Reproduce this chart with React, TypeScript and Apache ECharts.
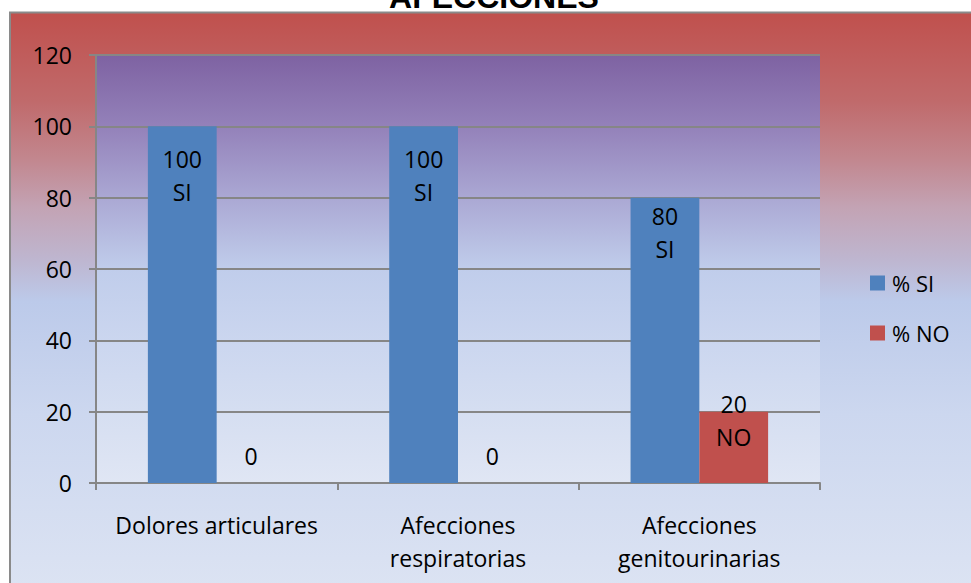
import React, { useEffect, useRef } from "react";
import * as echarts from "echarts";

const categories = ["Dolores articulares", "Afecciones\nrespiratorias", "Afecciones\ngenitourinarias"];
const siValues = [100, 100, 80];
const noValues = [0, 0, 20];
const yTicks = [0, 20, 40, 60, 80, 100, 120];
const seriesNames = ["% SI", "% NO"];
const titleText = "AFECCIONES";

// vertical nudges for the value labels, per bar
const siLabelOffsets = [16, 16, 2];
const noLabelOffsets = [-44, -44, -24];

const FONT = "'Open Sans', sans-serif";
const GRID = { left: 96, right: 151, top: 55, bottom: 100 };

export default function App() {
  const ref = useRef<HTMLDivElement>(null);

  useEffect(() => {
    document.body.style.margin = "0";
    if (!ref.current) return;
    const chart = echarts.init(ref.current, null, { renderer: "svg" });

    const labelBase = {
      show: true,
      position: "insideTop",
      distance: 0,
      color: "#000",
      fontFamily: FONT,
      fontSize: 23,
      lineHeight: 33,
    };

    const option = {
      animation: false,
      backgroundColor: "#fff",
      graphic: [
        {
          type: "rect",
          z: -10,
          shape: { x: 10, y: 12.5, width: 975, height: 590 },
          style: {
            fill: new echarts.graphic.LinearGradient(0, 0, 0, 1, [
              { offset: 0, color: "#C0504D" },
              { offset: 0.15, color: "#C06A6B" },
              { offset: 0.25, color: "#C2878F" },
              { offset: 0.33, color: "#C3A3B4" },
              { offset: 0.42, color: "#BEB6D0" },
              { offset: 0.49, color: "#BCCAEA" },
              { offset: 0.68, color: "#CCD7EF" },
              { offset: 1, color: "#DDE4F3" },
            ]),
            stroke: "#8A8A8A",
            lineWidth: 2,
          },
        },
        {
          type: "rect",
          z: -9,
          shape: { x: GRID.left, y: GRID.top, width: 971 - GRID.left - GRID.right, height: 583 - GRID.top - GRID.bottom },
          style: {
            fill: new echarts.graphic.LinearGradient(0, 0, 0, 1, [
              { offset: 0, color: "#7E62A2" },
              { offset: 0.17, color: "#9482BA" },
              { offset: 0.33, color: "#AAA7D3" },
              { offset: 0.5, color: "#C0CDEB" },
              { offset: 0.67, color: "#CBD6EF" },
              { offset: 0.83, color: "#D5DEF1" },
              { offset: 1, color: "#E0E6F4" },
            ]),
          },
        },
        {
          type: "text",
          z: 10,
          x: 494,
          y: -3,
          style: {
            text: titleText,
            fill: "#000",
            font: "bold 32px 'Liberation Sans', Arial, sans-serif",
            align: "center",
            verticalAlign: "middle",
          },
        },
      ],
      legend: {
        orient: "vertical",
        left: 865,
        top: 267,
        itemWidth: 15,
        itemHeight: 15,
        itemGap: 28,
        icon: "rect",
        data: seriesNames,
        textStyle: { color: "#000", fontFamily: FONT, fontSize: 22, lineHeight: 20, padding: [0, 0, 0, 2] },
      },
      grid: { ...GRID, containLabel: false },
      xAxis: {
        type: "category",
        data: categories,
        axisLine: { show: true, lineStyle: { color: "#868686", width: 2 } },
        axisTick: { show: true, length: 7, lineStyle: { color: "#868686", width: 2 } },
        axisLabel: {
          color: "#000",
          fontFamily: FONT,
          fontSize: 23,
          lineHeight: 33,
          margin: 25,
          interval: 0,
        },
      },
      yAxis: {
        type: "value",
        min: yTicks[0],
        max: yTicks[yTicks.length - 1],
        interval: yTicks[1] - yTicks[0],
        axisLine: { show: true, lineStyle: { color: "#868686", width: 2 } },
        axisTick: { show: true, length: 7, lineStyle: { color: "#868686", width: 2 } },
        splitLine: { show: true, lineStyle: { color: "#868686", width: 2 } },
        axisLabel: { color: "#000", fontFamily: FONT, fontSize: 23, margin: 24 },
      },
      series: [
        {
          name: seriesNames[0],
          type: "bar",
          barGap: "0%",
          barCategoryGap: "43%",
          itemStyle: { color: "#4F81BD" },
          data: siValues.map((v, i) => ({
            value: v,
            label: { ...labelBase, offset: [0, siLabelOffsets[i]], formatter: `${v}\nSI` },
          })),
        },
        {
          name: seriesNames[1],
          type: "bar",
          itemStyle: { color: "#C0504D" },
          data: noValues.map((v, i) => ({
            value: v,
            label: { ...labelBase, offset: [0, noLabelOffsets[i]], formatter: v === 0 ? `${v}` : `${v}\nNO` },
          })),
        },
      ],
    };

    chart.setOption(option as any);
    return () => chart.dispose();
  }, []);

  return <div ref={ref} style={{ width: 971, height: 583 }} />;
}
